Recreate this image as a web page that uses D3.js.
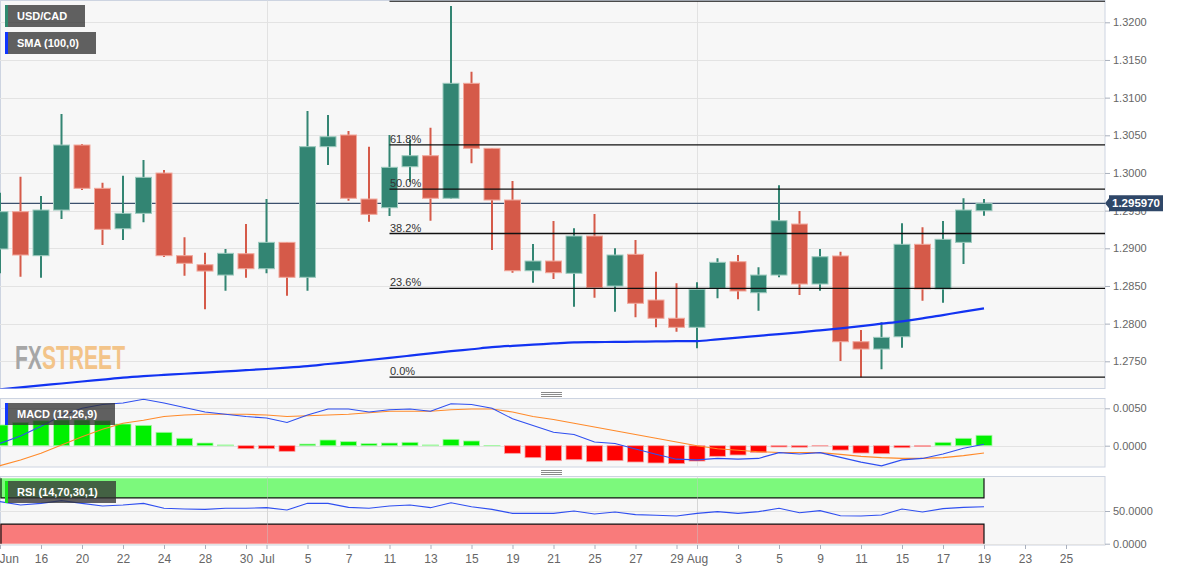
<!DOCTYPE html>
<html>
<head>
<meta charset="utf-8">
<script src="https://cdn.jsdelivr.net/npm/d3@7"></script>
<style>
body { margin: 0; background: #fff; }
svg text { font-family: "Liberation Sans", Arial, sans-serif; }
</style>
</head>
<body>
<svg id="chart" width="1182" height="571"></svg>
<script>
// trading days shown on the axis (last four are empty future slots)
var days = ["Jun 14","Jun 15","Jun 16","Jun 17","Jun 20","Jun 21","Jun 22","Jun 23","Jun 24","Jun 27","Jun 28","Jun 29","Jun 30",
  "Jul 1","Jul 4","Jul 5","Jul 6","Jul 7","Jul 8","Jul 11","Jul 12","Jul 13","Jul 14","Jul 15","Jul 18","Jul 19","Jul 20","Jul 21","Jul 22",
  "Jul 25","Jul 26","Jul 27","Jul 28","Jul 29","Aug 1","Aug 2","Aug 3","Aug 4","Aug 5","Aug 8","Aug 9","Aug 10","Aug 11","Aug 12",
  "Aug 15","Aug 16","Aug 17","Aug 18","Aug 19","Aug 22","Aug 23","Aug 24","Aug 25"];

var open = [1.28991,1.29486,1.28902,1.29508,1.30371,1.29796,1.29260,1.29464,1.29999,1.28902,1.28782,1.28645,1.28928,1.28729,1.29079,1.28615,
  1.30349,1.30504,1.29654,1.29539,1.30083,1.30229,1.29664,1.31190,1.30327,1.29641,1.28702,1.28831,1.28668,1.29163,1.28499,1.28920,
  1.28313,1.28071,1.27951,1.28469,1.28822,1.28410,1.28645,1.29322,1.28526,1.28898,1.27760,1.27663,1.27826,1.29053,1.28460,1.29079,1.29499];
var high = [1.29738,1.29950,1.29694,1.30783,1.30384,1.29871,1.29964,1.30172,1.30039,1.29146,1.28941,1.28991,1.29322,1.29654,1.29084,1.30822,
  1.30769,1.30557,1.30349,1.30504,1.30438,1.30601,1.32216,1.31344,1.30331,1.29893,1.29057,1.29362,1.29265,1.29455,1.29000,1.29110,
  1.28689,1.28535,1.28548,1.28867,1.28911,1.28748,1.29836,1.29495,1.28991,1.28955,1.27915,1.28017,1.29332,1.29279,1.29362,1.29664,1.29654];
var low = [1.28668,1.28623,1.28610,1.29389,1.29774,1.29044,1.29110,1.29345,1.28884,1.28636,1.28190,1.28437,1.28610,1.28668,1.28371,1.28437,
  1.30106,1.29632,1.29353,1.29429,1.29880,1.29366,1.29654,1.30128,1.28977,1.28676,1.28543,1.28592,1.28225,1.28344,1.28158,1.28084,
  1.27951,1.27893,1.27672,1.28336,1.28323,1.28172,1.28615,1.28380,1.28437,1.27504,1.27287,1.27394,1.27680,1.28304,1.28278,1.28791,1.29433];
var close = [1.29486,1.28911,1.29508,1.30371,1.29796,1.29252,1.29464,1.29942,1.28902,1.28801,1.28698,1.28933,1.28729,1.29079,1.28615,1.30349,
  1.30481,1.29664,1.29451,1.30075,1.30229,1.29664,1.31190,1.30327,1.29641,1.28702,1.28831,1.28676,1.29163,1.28477,1.28911,1.28270,
  1.28071,1.27951,1.28456,1.28814,1.28433,1.28645,1.29366,1.28526,1.28888,1.27760,1.27663,1.27818,1.29053,1.28460,1.29119,1.29508,1.29597];

// SMA(100)
var sma = [1.27128,1.27153,1.27180,1.27205,1.27232,1.27257,1.27283,1.27303,1.27319,1.27335,1.27350,1.27366,1.27382,1.27398,1.27416,1.27437,
  1.27464,1.27490,1.27517,1.27545,1.27575,1.27606,1.27634,1.27660,1.27687,1.27706,1.27721,1.27737,1.27752,1.27755,1.27757,1.27761,
  1.27764,1.27767,1.27769,1.27792,1.27814,1.27838,1.27861,1.27885,1.27911,1.27938,1.27967,1.27999,1.28031,1.28069,1.28114,1.28159,1.28203];

// MACD (12,26,9)
var macd = [0.0003,0.0013,0.0026,0.0040,0.0050,0.0055,0.0057,0.0062,0.0057,0.0051,0.0045,0.0042,0.0039,0.0037,0.0031,0.0041,
  0.0049,0.0049,0.0045,0.0048,0.0049,0.0046,0.0056,0.0055,0.0050,0.0036,0.0027,0.0018,0.0015,0.0005,0.0003,-0.00044,
  -0.00115,-0.0018,-0.0019,-0.0017,-0.0018,-0.0017,-0.00093,-0.0011,-0.00093,-0.00156,-0.0022,-0.0027,-0.0019,-0.0017,-0.0011,-0.00035,0.0002];
var signal = [-0.00267,-0.0019,-0.0010,0.0001,0.0012,0.0022,0.0030,0.0034,0.0039,0.0041,0.0042,0.0042,0.0042,0.0041,0.0039,0.0040,
  0.0041,0.0042,0.0044,0.0046,0.0046,0.0046,0.0048,0.0049,0.0049,0.0045,0.0039,0.0035,0.0030,0.0025,0.0020,0.0015,
  0.0010,0.0005,0.0000,-0.0004,-0.0006,-0.0008,-0.0009,-0.0009,-0.00093,-0.00116,-0.00143,-0.0016,-0.00169,-0.00169,-0.0016,-0.00133,-0.00098];
var hist = [0.00277,0.00312,0.00334,0.00344,0.00344,0.00334,0.00290,0.00272,0.00179,0.00099,0.00036,0.0001,-0.0004,-0.0004,-0.00075,0.00022,
  0.00076,0.00054,0.00027,0.00036,0.00045,0.0001,0.00085,0.00063,0.00002,-0.00102,-0.0016,-0.0020,-0.00187,-0.00214,-0.0020,-0.00218,
  -0.00231,-0.0024,-0.00205,-0.00142,-0.00124,-0.00089,-0.00017,-0.0002,-0.00004,-0.00058,-0.00098,-0.00107,-0.00027,-0.0001,0.00045,0.00099,0.00139];

// RSI (14)
var rsi = [64.3,59.2,61.7,65.8,61.7,57.6,59.2,61.7,54.1,53.1,52.5,54.1,54.1,55.1,51.5,61.7,61.7,55.6,54.1,57.6,59.2,55.1,62.7,56.6,52.5,
  46.4,46.4,46.4,50.0,45.4,48.5,44.4,43.4,42.3,46.4,49.0,46.4,49.0,54.1,47.4,50.5,42.8,42.3,43.8,53.1,48.5,53.6,55.6,56.6];

var xTickDays = ["Jun 14","Jun 16","Jun 20","Jun 22","Jun 24","Jun 28","Jun 30","Jul 1","Jul 5","Jul 7","Jul 11","Jul 13","Jul 15","Jul 19",
  "Jul 21","Jul 25","Jul 27","Jul 29","Aug 1","Aug 3","Aug 5","Aug 9","Aug 11","Aug 15","Aug 17","Aug 19","Aug 23","Aug 25"];
var xTickLabels = ["Jun","16","20","22","24","28","30","Jul","5","7","11","13","15","19","21","25","27","29","Aug","3","5","9","11","15","17","19","23","25"];
var monthStarts = ["Jul 1","Aug 1"];

var priceTicks = [1.2750,1.2800,1.2850,1.2900,1.2950,1.3000,1.3050,1.3100,1.3150,1.3200];
var macdTicks = [0, 0.005];
var rsiTicks = [0, 50];

var fibLevels = [0, 0.236, 0.382, 0.5, 0.618, 1];
var fibLow = 1.2729, fibHigh = 1.3228, fibStart = "Jul 11";
var lastPrice = 1.295970;

var svg = d3.select("#chart");
var right = 1105;

var x = d3.scalePoint().domain(days).range([0, 1066]);
var yPrice = d3.scaleLinear().domain([1.2750, 1.3200]).range([361.3, 22.3]);
var yMacd = d3.scaleLinear().domain([0, 0.005]).range([445.7, 408.3]);
var yRsi = d3.scaleLinear().domain([0, 100]).range([543.7, 478.3]);

var panels = [
  {id: "price", top: 0.5, bottom: 388.5, y: yPrice, ticks: priceTicks},
  {id: "macd", top: 398.5, bottom: 467, y: yMacd, ticks: macdTicks},
  {id: "rsi", top: 476.5, bottom: 545, y: yRsi, ticks: rsiTicks}
];

var defs = svg.append("defs");
panels.forEach(function(p) {
  defs.append("clipPath").attr("id", "clip-" + p.id)
    .append("rect").attr("x", 0).attr("y", p.top).attr("width", right).attr("height", p.bottom - p.top);
  svg.append("rect")
    .attr("x", 0.5).attr("y", p.top).attr("width", right - 0.5).attr("height", p.bottom - p.top)
    .attr("fill", "#f7f7f7").attr("stroke", "#cdd4e1");
  p.g = svg.append("g").attr("clip-path", "url(#clip-" + p.id + ")");
  // grid
  p.g.selectAll(".hgrid").data(p.ticks).enter().append("line")
    .attr("x1", 0).attr("x2", right)
    .attr("y1", function(d) { return Math.round(p.y(d)) + 0.5; })
    .attr("y2", function(d) { return Math.round(p.y(d)) + 0.5; })
    .attr("stroke", "#e3e3e3");
  p.g.selectAll(".vgrid").data(monthStarts).enter().append("line")
    .attr("x1", function(d) { return Math.round(x(d)) + 0.5; })
    .attr("x2", function(d) { return Math.round(x(d)) + 0.5; })
    .attr("y1", p.top).attr("y2", p.bottom)
    .attr("stroke", "#e2e2e2");
});

var idx = d3.range(close.length);
var bw = 16;

// ---- price panel
var pg = panels[0].g;

// watermark
var wm = pg.append("text").attr("x", 15).attr("y", 369).attr("textLength", 110).attr("lengthAdjust", "spacingAndGlyphs")
  .attr("font-size", 34).attr("font-weight", "bold");
wm.append("tspan").attr("fill", "#a6a6a6").text("FX");
wm.append("tspan").attr("fill", "#f3c489").text("STREET");

// current price line
pg.append("line").attr("x1", 0).attr("x2", right)
  .attr("y1", yPrice(lastPrice)).attr("y2", yPrice(lastPrice))
  .attr("stroke", "#3b506d").attr("stroke-width", 1.2);

// candles
var up = function(i) { return close[i] >= open[i]; };
pg.selectAll(".wick").data(idx).enter().append("line")
  .attr("x1", function(i) { return x(days[i]); })
  .attr("x2", function(i) { return x(days[i]); })
  .attr("y1", function(i) { return yPrice(high[i]); })
  .attr("y2", function(i) { return yPrice(low[i]); })
  .attr("stroke", function(i) { return up(i) ? "#338573" : "#d55a49"; })
  .attr("stroke-width", 2);
pg.selectAll(".body").data(idx).enter().append("rect")
  .attr("x", function(i) { return x(days[i]) - bw / 2; })
  .attr("width", bw)
  .attr("y", function(i) { return yPrice(Math.max(open[i], close[i])); })
  .attr("height", function(i) { return Math.max(1, Math.abs(yPrice(open[i]) - yPrice(close[i]))); })
  .attr("fill", function(i) { return up(i) ? "#338573" : "#d55a49"; })
  .attr("stroke", function(i) { return up(i) ? "#9ccabe" : "#f1a79b"; })
  .attr("stroke-width", 1);

// fibonacci retracement, drawn over the candles
var fib = pg.selectAll(".fib").data(fibLevels).enter().append("g");
fib.append("line")
  .attr("x1", x(fibStart)).attr("x2", right)
  .attr("y1", function(d) { return yPrice(fibLow + d * (fibHigh - fibLow)); })
  .attr("y2", function(d) { return yPrice(fibLow + d * (fibHigh - fibLow)); })
  .attr("stroke", "#111").attr("stroke-width", 1.3);
fib.filter(function(d) { return d < 1; }).append("text")
  .attr("x", x(fibStart) + 0.5)
  .attr("y", function(d) { return yPrice(fibLow + d * (fibHigh - fibLow)) - 2; })
  .attr("font-size", 11).attr("fill", "#333")
  .text(function(d) { return (d * 100).toFixed(1) + "%"; });

// SMA
pg.append("path").datum(idx)
  .attr("d", d3.line().x(function(i) { return x(days[i]); }).y(function(i) { return yPrice(sma[i]); }).curve(d3.curveMonotoneX))
  .attr("fill", "none").attr("stroke", "#1233f2").attr("stroke-width", 2.2);

// legends
function legend(g, x0, y0, w, label, color) {
  var lg = g.append("g").attr("transform", "translate(" + x0 + "," + y0 + ")");
  lg.append("rect").attr("width", w).attr("height", 22).attr("fill", "rgba(48,48,48,0.76)");
  lg.append("rect").attr("width", 3).attr("height", 22).attr("fill", color);
  lg.append("text").attr("x", 12).attr("y", 15).attr("font-size", 11).attr("font-weight", "bold")
    .attr("fill", "#fff").text(label);
}
legend(svg, 5, 5, 80, "USD/CAD", "#2f8a6f");
legend(svg, 5, 32, 91, "SMA (100,0)", "#0f35ff");

// ---- MACD panel
var mg = panels[1].g;
mg.selectAll(".bar").data(idx).enter().append("rect")
  .attr("x", function(i) { return x(days[i]) - bw / 2; })
  .attr("width", bw)
  .attr("y", function(i) { return Math.min(yMacd(hist[i]), yMacd(0)); })
  .attr("height", function(i) { return Math.abs(yMacd(hist[i]) - yMacd(0)); })
  .attr("fill", function(i) { return hist[i] >= 0 ? "#00f000" : "#ff0000"; })
  .attr("stroke", function(i) { return hist[i] >= 0 ? "#a6f7a6" : "#f8a0a0"; })
  .attr("stroke-width", 0.8);
mg.append("path").datum(idx)
  .attr("d", d3.line().x(function(i) { return x(days[i]); }).y(function(i) { return yMacd(signal[i]); }))
  .attr("fill", "none").attr("stroke", "#ff8a2a").attr("stroke-width", 1.1);
mg.append("path").datum(idx)
  .attr("d", d3.line().x(function(i) { return x(days[i]); }).y(function(i) { return yMacd(macd[i]); }))
  .attr("fill", "none").attr("stroke", "#2f4ff0").attr("stroke-width", 1.1);
legend(svg, 5, 403, 110, "MACD (12,26,9)", "#1238ff");

// ---- RSI panel
var rg = panels[2].g;
var zoneRight = x(days[close.length - 1]);
rg.append("rect").attr("x", 0).attr("width", zoneRight)
  .attr("y", yRsi(100)).attr("height", yRsi(70) - yRsi(100)).attr("fill", "#7cf97c");
rg.append("rect").attr("x", 0).attr("width", zoneRight)
  .attr("y", yRsi(30)).attr("height", yRsi(0) - yRsi(30)).attr("fill", "#f97b7b");
rg.append("path")
  .attr("d", "M1," + yRsi(100) + "V" + yRsi(70) + "H" + zoneRight + "V" + yRsi(100) +
             "M1," + yRsi(0) + "V" + yRsi(30) + "H" + zoneRight + "V" + yRsi(0))
  .attr("fill", "none").attr("stroke", "#111").attr("stroke-width", 1.2);
rg.selectAll(".zgrid").data(monthStarts).enter().append("line")
  .attr("x1", function(d) { return Math.round(x(d)) + 0.5; })
  .attr("x2", function(d) { return Math.round(x(d)) + 0.5; })
  .attr("y1", yRsi(100)).attr("y2", yRsi(0))
  .attr("stroke", "rgba(200,200,200,0.45)");
rg.append("path").datum(idx)
  .attr("d", d3.line().x(function(i) { return x(days[i]); }).y(function(i) { return yRsi(rsi[i]); }))
  .attr("fill", "none").attr("stroke", "#2f4ff0").attr("stroke-width", 1.1);
legend(svg, 5, 481, 111, "RSI (14,70,30,1)", "#19e619");

// panel handles
[392, 470].forEach(function(hy) {
  svg.selectAll(null).data([0, 2, 4]).enter().append("line")
    .attr("x1", 541).attr("x2", 562)
    .attr("y1", function(d) { return hy + d + 0.5; })
    .attr("y2", function(d) { return hy + d + 0.5; })
    .attr("stroke", "#8a8a8a");
});

// ---- axes
function styleAxis(g) {
  g.select(".domain").remove();
  g.selectAll(".tick line").attr("stroke", "#a9b0bd");
  g.selectAll(".tick text").attr("fill", "#666").attr("font-size", 11)
    .attr("font-family", "Liberation Sans, Arial, sans-serif");
}
svg.append("g").attr("transform", "translate(" + right + ",0)")
  .call(d3.axisRight(yPrice).tickValues(priceTicks).tickFormat(d3.format(".4f")).tickSize(5).tickPadding(3))
  .call(styleAxis);
svg.append("g").attr("transform", "translate(" + right + ",0)")
  .call(d3.axisRight(yMacd).tickValues(macdTicks).tickFormat(d3.format(".4f")).tickSize(5).tickPadding(3))
  .call(styleAxis);
svg.append("g").attr("transform", "translate(" + right + ",0)")
  .call(d3.axisRight(yRsi).tickValues(rsiTicks).tickFormat(d3.format(".4f")).tickSize(5).tickPadding(3))
  .call(styleAxis);

var xg = svg.append("g").attr("transform", "translate(0,545)")
  .call(d3.axisBottom(x).tickValues(xTickDays).tickFormat(function(d, i) { return xTickLabels[i]; }).tickSize(4).tickPadding(5))
  .call(styleAxis);
xg.selectAll(".tick text").attr("font-size", 12);
xg.select(".tick text").attr("text-anchor", "start").attr("x", -1);

// last price tag
var yc = yPrice(lastPrice);
svg.append("path")
  .attr("d", "M" + right + "," + yc + "L1109," + (yc - 5) + "V" + (yc - 8) + "H1163V" + (yc + 8) + "H1109V" + (yc + 5) + "Z")
  .attr("fill", "#2f4768");
svg.append("text").attr("x", 1136).attr("y", yc + 4).attr("text-anchor", "middle")
  .attr("font-size", 11.5).attr("font-weight", "bold").attr("fill", "#fff").text(lastPrice.toFixed(6));
</script>
</body>
</html>
